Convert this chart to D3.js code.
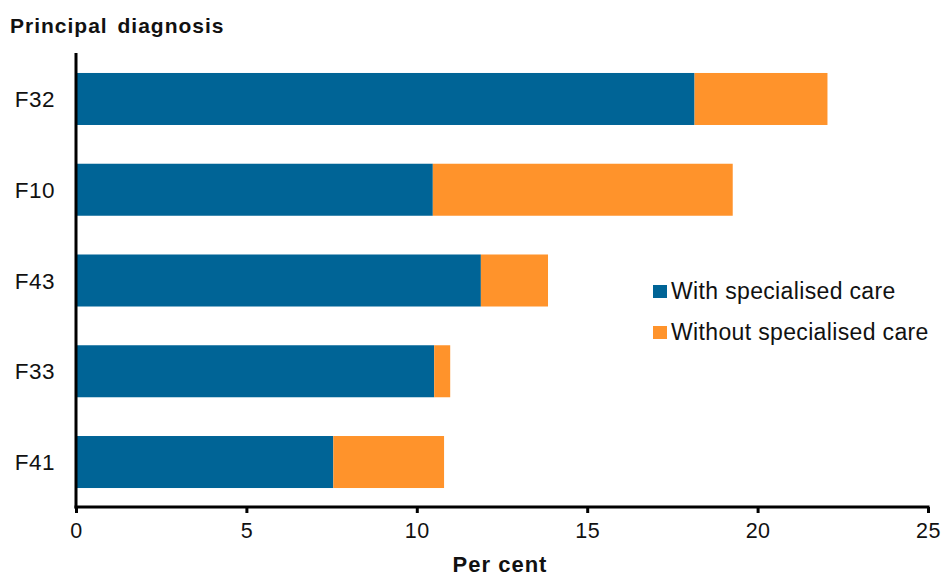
<!DOCTYPE html>
<html>
<head>
<meta charset="utf-8">
<script src="https://cdn.jsdelivr.net/npm/d3@7"></script>
<style>
  html, body { margin: 0; padding: 0; background: #fff; }
  svg { display: block; font-family: "Liberation Sans", Arial, sans-serif; }
</style>
</head>
<body>
<svg id="chart" width="942" height="576"></svg>
<script>
// Principal diagnosis codes, top to bottom
const categories = ["F32", "F10", "F43", "F33", "F41"];
// Per cent of patients, by whether specialised care was received
const withCare = [18.15, 10.47, 11.88, 10.51, 7.55];
const withoutCare = [3.9, 8.8, 1.97, 0.47, 3.25];
const seriesNames = ["With specialised care", "Without specialised care"];
const xTicks = [0, 5, 10, 15, 20, 25];

const colors = ["#006496", "#FF932B"];

const svg = d3.select("#chart");

const x = d3.scaleLinear().domain([0, 25]).range([76, 928]);
const y = d3.scaleBand().domain(categories).range([53.6, 507.4])
  .paddingInner(0.427).paddingOuter(0.2135);

const rows = categories.map((c, i) => ({ cat: c, a: withCare[i], b: withoutCare[i] }));

// stacked bars
const g = svg.append("g");
g.selectAll("rect.with").data(rows).join("rect")
  .attr("class", "with")
  .attr("x", x(0))
  .attr("y", d => y(d.cat))
  .attr("width", d => x(d.a) - x(0))
  .attr("height", y.bandwidth())
  .attr("fill", colors[0]);
g.selectAll("rect.without").data(rows).join("rect")
  .attr("class", "without")
  .attr("x", d => x(d.a))
  .attr("y", d => y(d.cat))
  .attr("width", d => x(d.a + d.b) - x(d.a))
  .attr("height", y.bandwidth())
  .attr("fill", colors[1]);

// x axis
const xAxis = svg.append("g")
  .attr("transform", "translate(0,507)")
  .call(d3.axisBottom(x).tickValues(xTicks).tickSize(6).tickSizeOuter(0).tickPadding(8));
xAxis.select(".domain").attr("stroke", "#000").attr("stroke-width", 3)
  .attr("d", `M${x(0) - 1.5},0H${x(25) + 1.5}`);
xAxis.selectAll(".tick line").attr("stroke", "#000").attr("stroke-width", 3);
xAxis.selectAll(".tick text").attr("fill", "#111").attr("font-size", 21.5)
  .attr("letter-spacing", 0.5).attr("dy", "0.78em");

// y axis
const yAxis = svg.append("g")
  .attr("transform", `translate(${x(0)},0)`)
  .call(d3.axisLeft(y).tickSize(0).tickPadding(21));
yAxis.select(".domain").attr("stroke", "#000").attr("stroke-width", 3)
  .attr("d", "M0,53V508.5");
yAxis.selectAll(".tick text").attr("fill", "#111").attr("font-size", 22.5)
  .attr("letter-spacing", 0.5).attr("dy", "0.36em");

// titles
svg.append("text")
  .attr("x", 10).attr("y", 33)
  .attr("font-size", 21).attr("font-weight", "bold").attr("fill", "#111")
  .attr("letter-spacing", 1).attr("word-spacing", 3)
  .text("Principal diagnosis");
svg.append("text")
  .attr("x", 500).attr("y", 572)
  .attr("text-anchor", "middle")
  .attr("font-size", 22).attr("font-weight", "bold").attr("fill", "#111")
  .attr("letter-spacing", 1)
  .text("Per cent");

// legend
const legend = svg.append("g");
seriesNames.forEach((name, i) => {
  const ly = 291 + i * 41;
  legend.append("rect")
    .attr("x", 653).attr("y", ly - 6).attr("width", 14).attr("height", 13)
    .attr("fill", colors[i]);
  legend.append("text")
    .attr("x", 671).attr("y", ly).attr("dy", "0.36em")
    .attr("font-size", 23).attr("fill", "#111")
    .attr("letter-spacing", 0.35)
    .text(name);
});
</script>
</body>
</html>
